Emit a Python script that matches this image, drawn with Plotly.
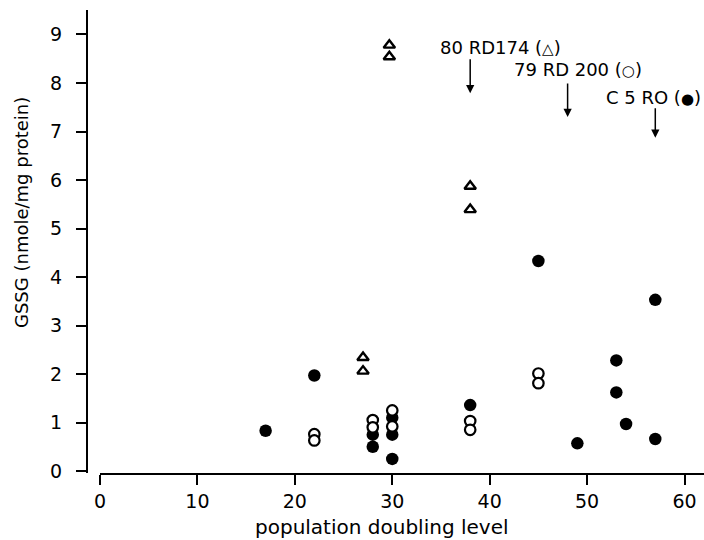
import plotly.graph_objects as go

# GSSG content versus population doubling level for three fibroblast strains
# C 5 RO (filled circles)
c5ro_pdl = [17, 22, 28, 28, 30, 30, 30, 38, 45, 49, 53, 53, 54, 57, 57]
c5ro_gssg = [0.83, 1.97, 0.75, 0.50, 1.10, 0.75, 0.25, 1.36, 4.33, 0.57, 2.28, 1.62, 0.97, 3.53, 0.66]

# 79 RD 200 (open circles)
rd200_pdl = [22, 22, 28, 28, 30, 30, 38, 38, 45, 45]
rd200_gssg = [0.76, 0.63, 1.05, 0.90, 1.25, 0.92, 1.03, 0.85, 2.01, 1.81]

# 80 RD174 (open triangles)
rd174_pdl = [27, 27, 29.7, 29.7, 38, 38]
rd174_gssg = [2.34, 2.06, 8.78, 8.54, 5.87, 5.39]

# strain labels (name, symbol) and the PDL each arrow marks
strain_names = ["80 RD174", "79 RD 200", "C 5 RO"]
strain_symbols = ["△", "○", "●"]
label_x = [34.7, 42.3, 51.7]
label_y = [8.74, 8.27, 7.71]
arrow_x = [38, 48, 57]
arrow_tail_y = [8.52, 8.02, 7.51]
arrow_tip_y = [7.79, 7.30, 6.87]

x_ticks = [0, 10, 20, 30, 40, 50, 60]
y_ticks = [0, 1, 2, 3, 4, 5, 6, 7, 8, 9]

FONT = "DejaVu Sans"
INK = "black"

fig = go.Figure()

fig.add_trace(go.Scatter(
    x=c5ro_pdl, y=c5ro_gssg, mode="markers", name="C 5 RO",
    marker=dict(symbol="circle", size=12.5, color=INK, line=dict(width=0)),
))
fig.add_trace(go.Scatter(
    x=rd200_pdl, y=rd200_gssg, mode="markers", name="79 RD 200",
    marker=dict(symbol="circle", size=10.5, color="white", line=dict(width=2.2, color=INK)),
))
fig.add_trace(go.Scatter(
    x=rd174_pdl, y=rd174_gssg, mode="markers", name="80 RD174",
    marker=dict(symbol="triangle-up-open", size=10, color=INK, line=dict(width=2.4, color=INK)),
))

annotations = []
for name, sym, lx, ly in zip(strain_names, strain_symbols, label_x, label_y):
    annotations.append(dict(
        x=lx, y=ly, xref="x", yref="y",
        text=f"{name} (<span style='font-size:15px'>{sym}</span>)",
        showarrow=False, xanchor="left", yanchor="middle",
        font=dict(family=FONT, size=18, color=INK),
    ))
for axv, ty, hy in zip(arrow_x, arrow_tail_y, arrow_tip_y):
    annotations.append(dict(
        x=axv, y=hy, xref="x", yref="y", ax=axv, ay=ty, axref="x", ayref="y",
        text="", showarrow=True, arrowhead=2, arrowsize=1.1, arrowwidth=1.5,
        arrowcolor=INK, standoff=0, startstandoff=0,
    ))

# axis titles
annotations.append(dict(
    x=21, y=213, xref="paper", yref="paper", text="GSSG (nmole/mg protein)",
    showarrow=False, textangle=-90, xanchor="center", yanchor="middle",
    font=dict(family=FONT, size=18, color=INK),
))
annotations.append(dict(
    x=382, y=527, xref="paper", yref="paper", text="population doubling level",
    showarrow=False, xanchor="center", yanchor="middle",
    font=dict(family=FONT, size=20, color=INK),
))

W, H = 704, 540
ML, MR, MT, MB = 87, 0, 10, 67
PW, PH = W - ML - MR, H - MT - MB

# convert the pixel-positioned titles to paper fractions
for a in annotations[-2:]:
    a["x"] = (a["x"] - ML) / PW
    a["y"] = 1 - (a["y"] - MT) / PH

fig.update_layout(
    width=W, height=H,
    margin=dict(l=ML, r=MR, t=MT, b=MB, pad=0),
    paper_bgcolor="white", plot_bgcolor="white",
    showlegend=False,
    font=dict(family=FONT, size=18, color=INK),
    annotations=annotations,
    xaxis=dict(
        domain=[13 / PW, 1], range=[0, 62.0],
        tickvals=x_ticks, ticks="outside", ticklen=10, tickwidth=2, tickcolor=INK,
        showline=True, linewidth=2, linecolor=INK,
        showgrid=False, zeroline=False,
        tickfont=dict(family=FONT, size=19, color=INK),
    ),
    yaxis=dict(
        domain=[0, 1], range=[-0.041, 9.505],
        anchor="free", position=0,
        tickvals=y_ticks, ticks="outside", ticklen=10, tickwidth=2, tickcolor=INK,
        showline=True, linewidth=2, linecolor=INK,
        showgrid=False, zeroline=False, ticklabelstandoff=10,
        tickfont=dict(family=FONT, size=19, color=INK),
    ),
)

fig.write_html("out.html")
